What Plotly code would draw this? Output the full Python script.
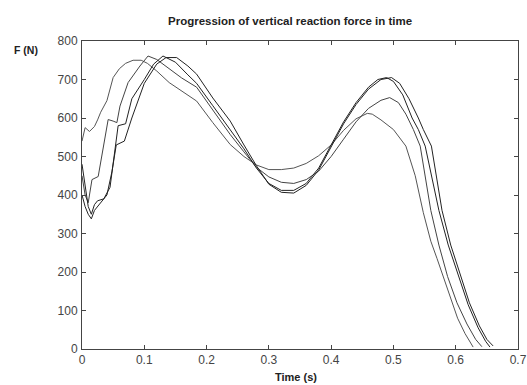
import plotly.graph_objects as go

# Curve A: earliest first peak, highest valley, lowest second peak
t_a = [0, 0.005, 0.012, 0.02, 0.025, 0.03, 0.04, 0.05, 0.06, 0.07, 0.082, 0.095, 0.105, 0.12, 0.14,
       0.16, 0.184, 0.21, 0.238, 0.26, 0.28, 0.3, 0.32, 0.34, 0.36, 0.38, 0.4, 0.42, 0.44, 0.458,
       0.466, 0.48, 0.5, 0.52, 0.535, 0.548, 0.56, 0.57, 0.58, 0.592, 0.603, 0.615, 0.625, 0.628]
f_a = [540, 575, 565, 578, 595, 615, 645, 705, 728, 742, 750, 750, 742, 722, 692,
       670, 644, 588, 531, 500, 478, 466, 466, 470, 482, 502, 530, 568, 598, 612,
       610, 595, 570, 527, 450, 354, 280, 235, 188, 130, 80, 40, 15, 5]

# Curve B: early plateau near 600, second peak ~650
t_b = [0, 0.005, 0.01, 0.016, 0.026, 0.034, 0.042, 0.05, 0.056, 0.061, 0.074, 0.093, 0.106, 0.12,
       0.14, 0.16, 0.184, 0.21, 0.238, 0.26, 0.28, 0.3, 0.32, 0.34, 0.36, 0.38, 0.4, 0.42, 0.44,
       0.46, 0.48, 0.494, 0.508, 0.52, 0.532, 0.543, 0.552, 0.56, 0.573, 0.587, 0.602, 0.618,
       0.632, 0.642]
f_b = [450, 400, 380, 440, 448, 518, 596, 592, 588, 631, 692, 735, 761, 752,
       728, 704, 680, 622, 557, 512, 472, 447, 433, 430, 440, 462, 500, 545, 590,
       625, 646, 653, 640, 610, 570, 527, 440, 360, 270, 188, 120, 65,
       25, 6]

# Curve C: second peak ~705
t_c = [0, 0.005, 0.01, 0.015, 0.02, 0.025, 0.035, 0.045, 0.052, 0.058, 0.07, 0.08, 0.1, 0.115,
       0.13, 0.15, 0.17, 0.184, 0.21, 0.238, 0.26, 0.28, 0.3, 0.32, 0.34, 0.36, 0.38, 0.4, 0.42,
       0.44, 0.46, 0.475, 0.489, 0.5, 0.515, 0.53, 0.54, 0.551, 0.562, 0.573, 0.588, 0.605, 0.62,
       0.636, 0.648, 0.655]
f_c = [480, 420, 370, 350, 375, 385, 390, 420, 500, 580, 585, 650, 700, 740,
       761, 745, 712, 690, 632, 570, 520, 470, 430, 412, 412, 430, 470, 530, 590,
       640, 680, 700, 705, 695, 660, 600, 570, 527, 440, 360, 270, 188, 115,
       55, 20, 5]

# Curve D: latest first peak, second peak ~705
t_d = [0, 0.005, 0.01, 0.015, 0.02, 0.03, 0.04, 0.048, 0.055, 0.068, 0.08, 0.1, 0.12, 0.135,
       0.152, 0.17, 0.184, 0.21, 0.238, 0.26, 0.28, 0.3, 0.32, 0.34, 0.36, 0.38, 0.4, 0.42,
       0.44, 0.46, 0.48, 0.497, 0.51, 0.525, 0.54, 0.548, 0.561, 0.57, 0.578, 0.592, 0.608,
       0.622, 0.638, 0.65, 0.66]
f_d = [400, 370, 350, 338, 360, 380, 400, 460, 530, 540, 600, 690, 740, 757,
       757, 735, 714, 652, 592, 530, 476, 428, 407, 405, 425, 465, 525, 585,
       635, 675, 700, 705, 690, 650, 600, 570, 527, 440, 360, 270, 188,
       120, 60, 25, 8]

x_ticks = [0, 0.1, 0.2, 0.3, 0.4, 0.5, 0.6, 0.7]
x_labels = ["0", "0.1", "0.2", "0.3", "0.4", "0.5", "0.6", "0.7"]
y_ticks = [0, 100, 200, 300, 400, 500, 600, 700, 800]
y_labels = ["0", "100", "200", "300", "400", "500", "600", "700", "800"]

title_text = "Progression of vertical reaction force in time"
x_title = "Time (s)"
y_title = "F (N)"

W, H = 527, 385
L, R, T, B = 82, 527 - 518, 41, 385 - 349

fig = go.Figure()
for t, f, col in [(t_a, f_a, "#555555"), (t_b, f_b, "#444444"), (t_c, f_c, "#222222"), (t_d, f_d, "#222222")]:
    fig.add_trace(go.Scatter(x=t, y=f, mode="lines", line=dict(color=col, width=1),
                             showlegend=False, hoverinfo="skip"))

axis_common = dict(showline=True, linecolor="#444444", linewidth=1, mirror="ticks",
                   ticks="inside", ticklen=4, tickcolor="#444444", showgrid=False,
                   zeroline=False, automargin=False,
                   tickfont=dict(family="Liberation Sans, Arial", size=12, color="#444444"))

fig.update_layout(
    width=W, height=H,
    margin=dict(l=L, r=R, t=T, b=B, pad=0),
    paper_bgcolor="white", plot_bgcolor="white",
    xaxis=dict(range=[0, 0.7], tickvals=x_ticks, ticktext=x_labels, **axis_common),
    yaxis=dict(range=[0, 800], tickvals=y_ticks, ticktext=y_labels, ticklabelstandoff=1, **axis_common),
)

# annotations placed by page pixel positions (centre), converted to paper coordinates
pw, ph = W - L - R, H - T - B
texts = [
    (title_text, 290, 21, 11.5),
    (x_title, 296, 377, 11),
    (y_title, 26, 50, 10.5),
]
for txt, px, py, size in texts:
    fig.add_annotation(text="<b>" + txt + "</b>", x=(px - L) / pw, y=(H - py - B) / ph,
                       xref="paper", yref="paper", xanchor="center", yanchor="middle",
                       showarrow=False,
                       font=dict(family="Liberation Sans, Arial", size=size, color="#222222"))

fig.write_html("out.html", config={"displayModeBar": False},
               post_script="document.body.style.margin='0';document.body.style.overflow='hidden';")
